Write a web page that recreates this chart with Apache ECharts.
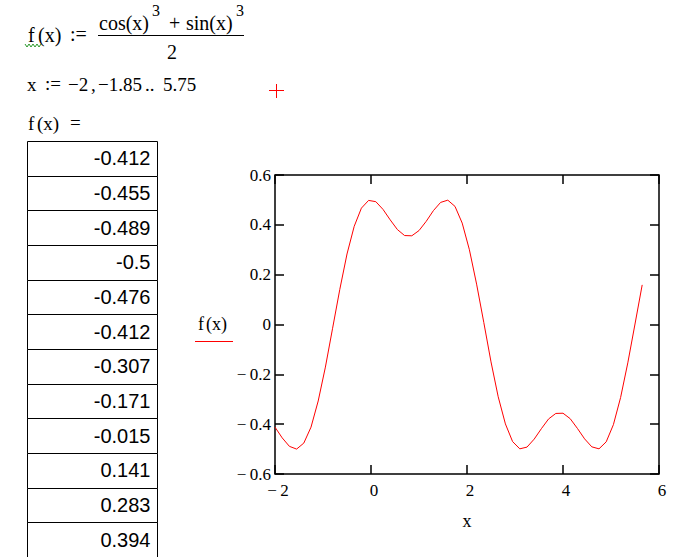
<!DOCTYPE html>
<html>
<head>
<meta charset="utf-8">
<script src="https://cdn.jsdelivr.net/npm/echarts@6/dist/echarts.min.js"></script>
<style>
html,body{margin:0;padding:0;background:#fff;}
#c{width:699px;height:557px;}
</style>
</head>
<body>
<div id="c"></div>
<script>
// x = -2, -1.85 .. 5.75
const xValues = [-2, -1.85, -1.7, -1.55, -1.4, -1.25, -1.1, -0.95, -0.8, -0.65, -0.5, -0.35,
  -0.2, -0.05, 0.1, 0.25, 0.4, 0.55, 0.7, 0.85, 1.0, 1.15, 1.3, 1.45, 1.6, 1.75, 1.9, 2.05,
  2.2, 2.35, 2.5, 2.65, 2.8, 2.95, 3.1, 3.25, 3.4, 3.55, 3.7, 3.85, 4.0, 4.15, 4.3, 4.45,
  4.6, 4.75, 4.9, 5.05, 5.2, 5.35, 5.5, 5.65];
// f(x) values
const fValues = [-0.412, -0.455, -0.489, -0.5, -0.476, -0.412, -0.307, -0.171, -0.015, 0.141, 0.283, 0.394,
  0.467, 0.498, 0.493, 0.462, 0.420, 0.381, 0.357, 0.356, 0.377, 0.414, 0.457, 0.490, 0.499, 0.474,
  0.407, 0.300, 0.162, 0.008, -0.150, -0.290, -0.399, -0.470, -0.499, -0.492, -0.460, -0.418, -0.379,
  -0.357, -0.356, -0.378, -0.417, -0.459, -0.491, -0.499, -0.471, -0.402, -0.293, -0.154, 0.002, 0.159];
// values shown in the output table
const tableValues = [-0.412, -0.455, -0.489, -0.5, -0.476, -0.412, -0.307, -0.171, -0.015, 0.141, 0.283, 0.394];
const xTicks = [-2, 0, 2, 4, 6];
const yTicks = [-0.6, -0.4, -0.2, 0, 0.2, 0.4, 0.6];

const SERIF = '"Liberation Serif", "Times New Roman", serif';
const SANS = '"Liberation Sans", Arial, sans-serif';

const chart = echarts.init(document.getElementById('c'), null, {renderer: 'svg'});

const fmt = v => {
  const r = Math.round(v * 1000) / 1000;
  return r < 0 ? '\u2212\u2009' + String(Math.abs(r)) : String(r);
};

function txt(text, x, y, size, opts) {
  return Object.assign({
    type: 'text', x: x, y: y, silent: true,
    style: Object.assign({text: text, font: size + 'px ' + SERIF, fill: '#000', align: 'left', verticalAlign: 'middle'}, (opts && opts.style) || {})
  }, (opts && opts.el) || {});
}
function line(x1, y1, x2, y2, color, w) {
  return {type: 'line', silent: true, shape: {x1: x1, y1: y1, x2: x2, y2: y2}, style: {stroke: color, lineWidth: w || 1}};
}

const graphics = [
  // f(x) := (cos(x)^3 + sin(x)^3)/2
  txt('f', 28, 35, 20),
  txt('(x)', 38, 35, 20),
  txt(':=', 70, 34, 20),
  txt('cos(x)', 99, 22.5, 20),
  txt('3', 152, 10, 16),
  txt('+', 169, 22.5, 20),
  txt('sin(x)', 186, 22.5, 20),
  txt('3', 236, 10, 16),
  line(98, 35.5, 244, 35.5, '#000', 1),
  txt('2', 172, 51.5, 20, {style: {align: 'center'}}),
  {type: 'polyline', silent: true, shape: {points: [[25,44],[27,47],[29,44],[31,47],[33,44],[35,47],[37,44],[39,47],[41,44]]}, style: {stroke: '#2a9a2a', lineWidth: 1, fill: null}},
  // x := -2, -1.85 .. 5.75
  txt('x', 27, 84.3, 19),
  txt(':=', 45, 83.5, 19),
  txt('\u22122', 68, 84.3, 19),
  txt(',', 91, 84.3, 19),
  txt('\u22121.85', 98, 84.3, 19),
  txt('..', 145, 84.3, 19),
  txt('5.75', 163, 84.3, 19),
  // red cross
  line(269, 90.5, 284, 90.5, '#ff0000', 1),
  line(276.5, 84, 276.5, 98, '#ff0000', 1),
  // f(x) =
  txt('f', 28, 123, 19),
  txt('(x)', 37, 123, 19),
  txt('=', 70, 122.5, 19),
  // y axis name
  txt('f', 198, 324, 18),
  txt('(x)', 206, 324, 18),
  line(195, 341.5, 233, 341.5, '#ff0000', 1)
];

const tickStyle = {inside: true, length: 9, lineStyle: {color: '#000', width: 1.5}};

const option = {
  animation: false,
  backgroundColor: '#ffffff',
  grid: [
    {left: 275, top: 175, width: 384, height: 299, show: true, borderColor: '#000', borderWidth: 1.5, backgroundColor: 'transparent'},
    {left: 27, top: 141, width: 130, height: 420, show: false}
  ],
  xAxis: [
    {type: 'value', gridIndex: 0, min: -2, max: 6, interval: 2, position: 'bottom',
     name: 'x', nameLocation: 'middle', nameGap: 38,
     nameTextStyle: {fontFamily: SERIF, fontSize: 18, color: '#000'},
     axisLine: {show: false, onZero: false}, splitLine: {show: false},
     axisTick: tickStyle,
     axisLabel: {formatter: fmt, fontFamily: SERIF, fontSize: 17, color: '#000', margin: 8, padding: [0, 0, 0, 6]}},
    {type: 'value', gridIndex: 0, min: -2, max: 6, interval: 2, position: 'top',
     axisLine: {show: false, onZero: false}, splitLine: {show: false}, axisLabel: {show: false},
     axisTick: tickStyle},
    {type: 'value', gridIndex: 1, min: 0, max: 1, show: false}
  ],
  yAxis: [
    {type: 'value', gridIndex: 0, min: -0.6, max: 0.6, interval: 0.2, position: 'left',
     axisLine: {show: false, onZero: false}, splitLine: {show: false},
     axisTick: tickStyle,
     axisLabel: {formatter: fmt, fontFamily: SERIF, fontSize: 17, color: '#000', margin: 4}},
    {type: 'value', gridIndex: 0, min: -0.6, max: 0.6, interval: 0.2, position: 'right',
     axisLine: {show: false, onZero: false}, splitLine: {show: false}, axisLabel: {show: false},
     axisTick: tickStyle},
    {type: 'category', gridIndex: 1, inverse: true, show: false,
     data: tableValues.map((v, i) => i)}
  ],
  graphic: graphics,
  series: [
    {type: 'line', xAxisIndex: 0, yAxisIndex: 0,
     data: xValues.map((x, i) => [x, fValues[i]]),
     showSymbol: false, symbol: 'none',
     lineStyle: {color: '#ff0000', width: 1}, silent: true, z: 5},
    {type: 'custom', xAxisIndex: 2, yAxisIndex: 2, silent: true,
     data: tableValues.map((v, i) => [0, i, v]),
     encode: {x: 0, y: 1},
     renderItem: function (params, api) {
       const p = api.coord([0, api.value(1)]);
       const s = api.size([1, 1]);
       const x0 = Math.round(p[0]) + 0.5;
       const y0 = Math.round(p[1] - s[1] / 2) + 0.5;
       return {type: 'group', children: [
         {type: 'rect', shape: {x: x0, y: y0, width: Math.round(s[0]), height: Math.round(s[1])},
          style: {fill: '#fff', stroke: '#000', lineWidth: 1}},
         {type: 'text', x: x0 + s[0] - 7, y: p[1],
          style: {text: String(api.value(2)), font: '20px ' + SANS, fill: '#000', align: 'right', verticalAlign: 'middle'}}
       ]};
     }}
  ]
};
chart.setOption(option);
</script>
</body>
</html>
